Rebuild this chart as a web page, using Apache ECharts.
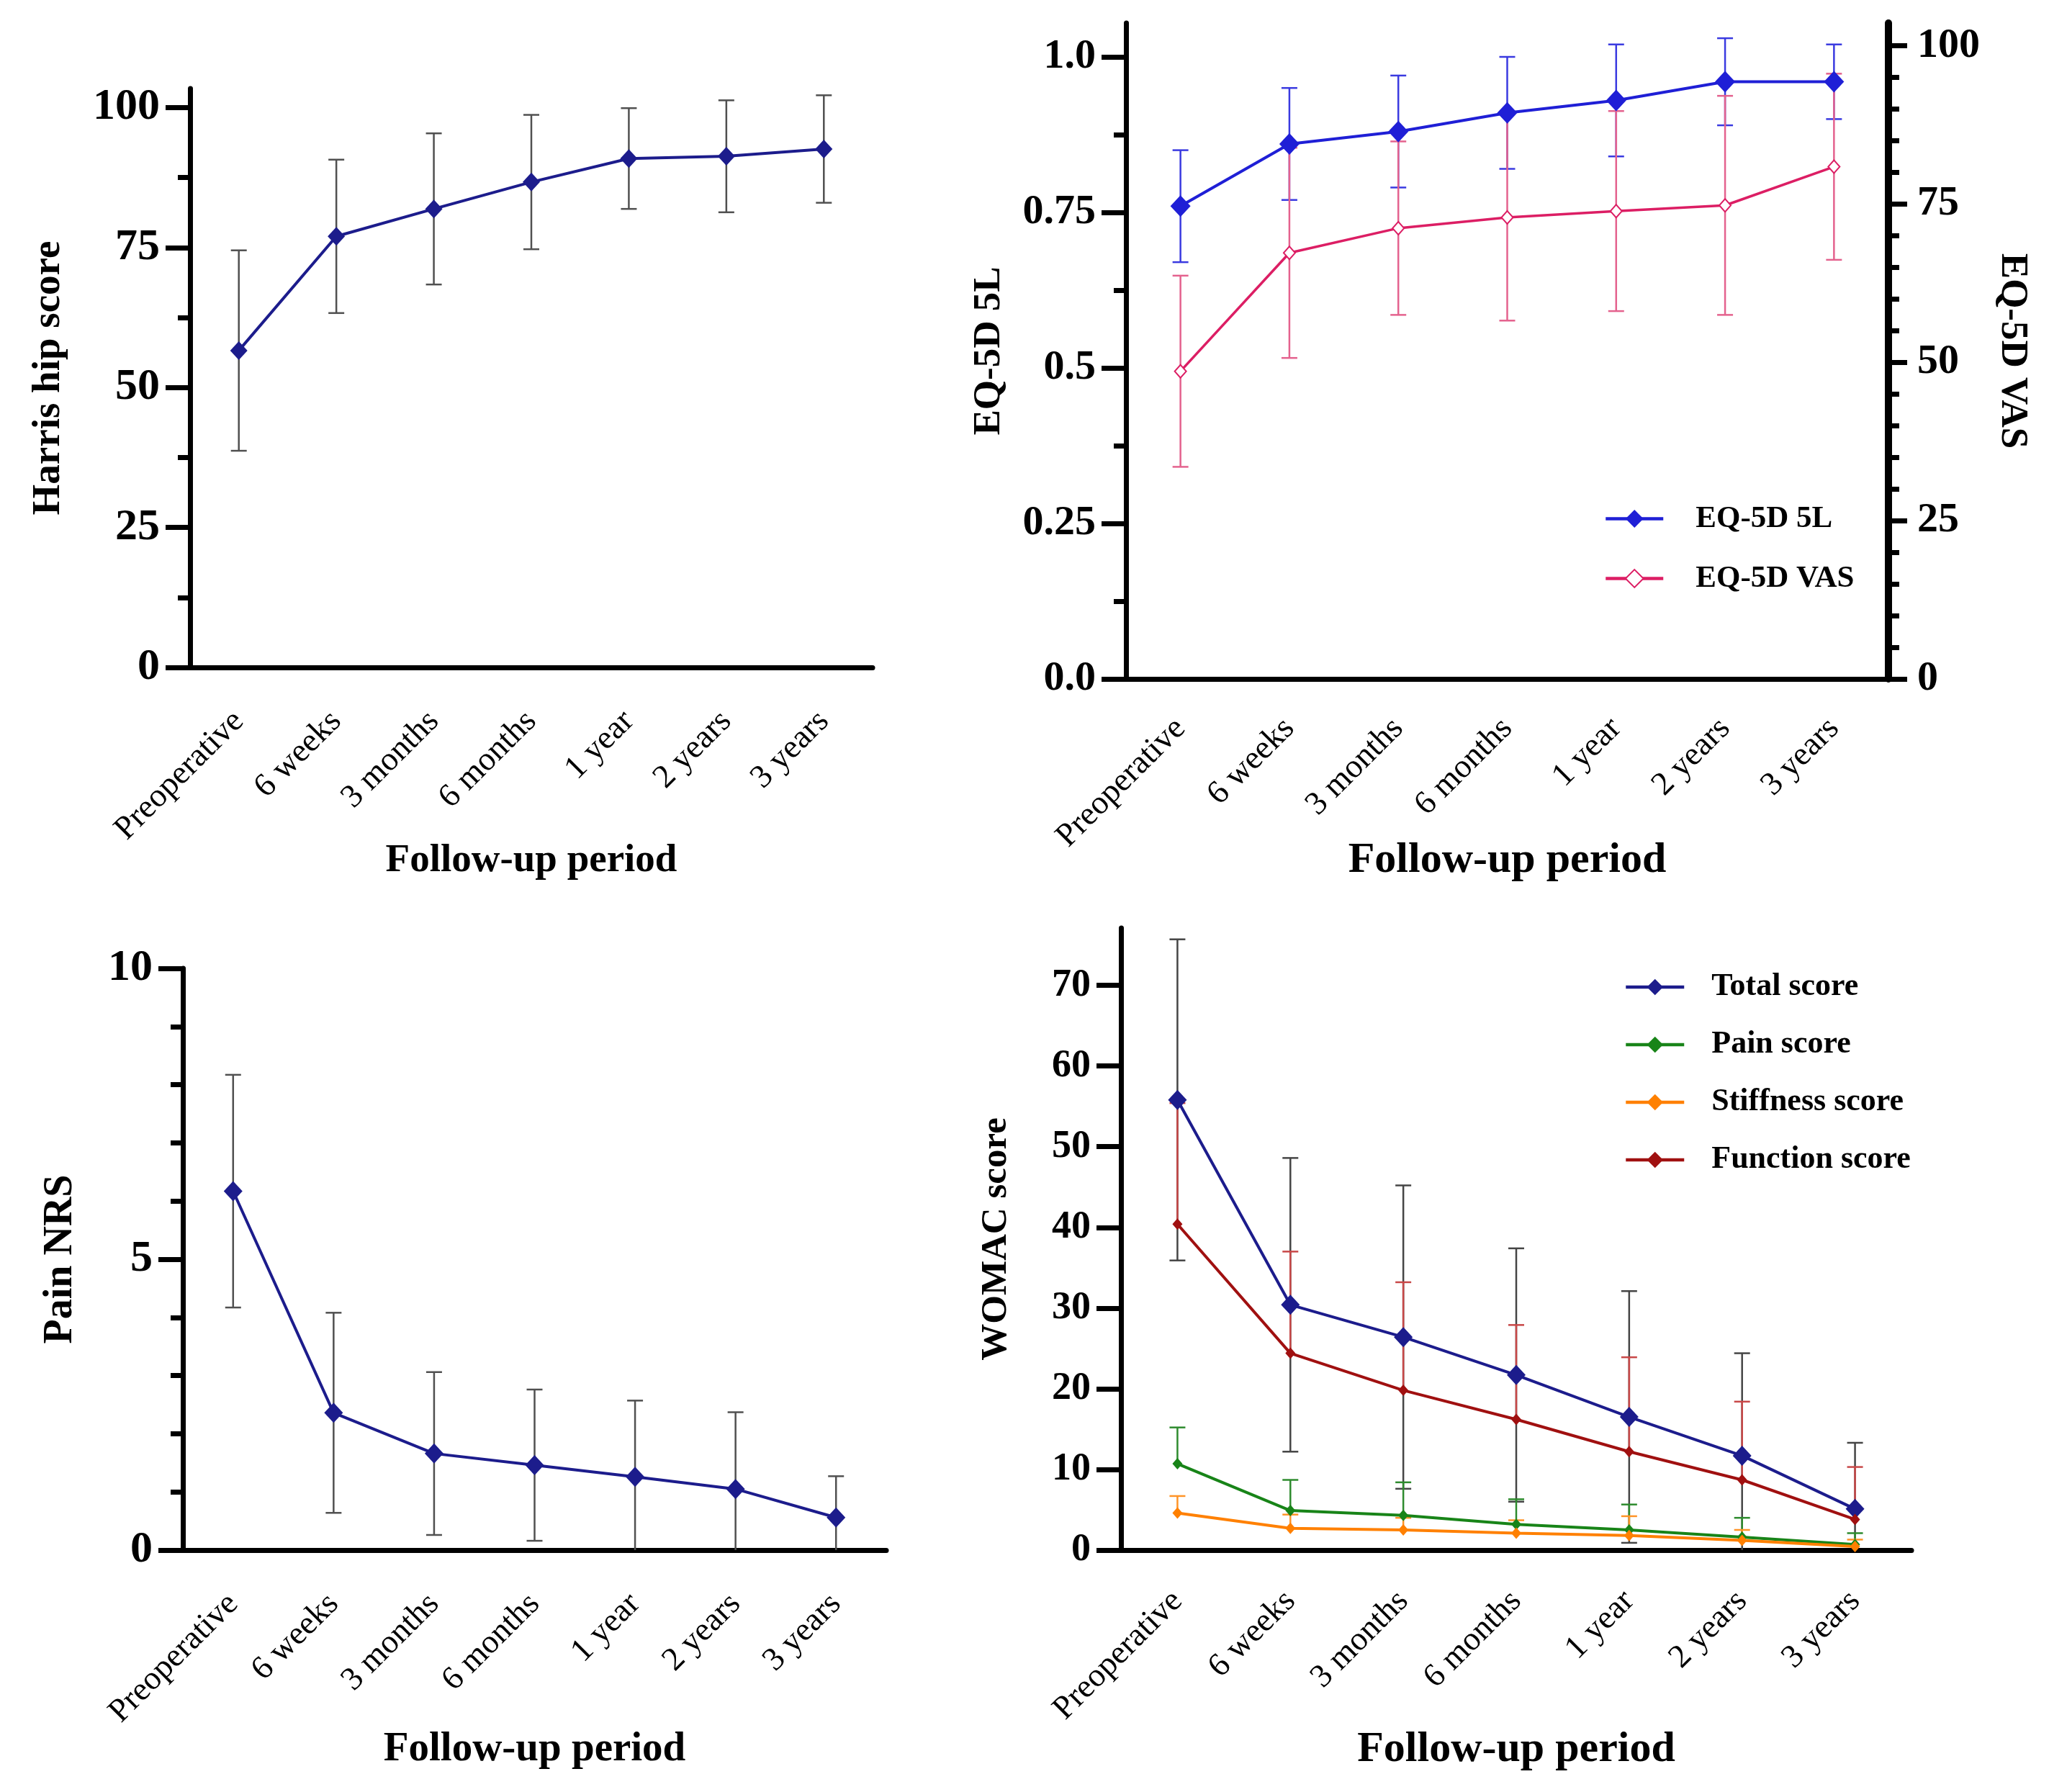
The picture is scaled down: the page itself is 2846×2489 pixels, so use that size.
<!DOCTYPE html>
<html>
<head>
<meta charset="utf-8">
<title>Follow-up outcomes</title>
<script src="https://cdn.jsdelivr.net/npm/echarts@6/dist/echarts.min.js"></script>
<style>
  html, body { margin: 0; padding: 0; background: #fff; }
  #chart { width: 2846px; height: 2489px; }
</style>
</head>
<body>
<div id="chart"></div>
<script>
// follow-up time points (shared by all four panels)
var periods = ['Preoperative', '6 weeks', '3 months', '6 months', '1 year', '2 years', '3 years'];

// Harris hip score, mean and SD
var harrisMean = [56.6, 77.0, 81.9, 86.7, 90.9, 91.3, 92.6];
var harrisSD = [17.9, 13.7, 13.5, 12.0, 9.0, 10.0, 9.6];
var harrisTicks = [0, 25, 50, 75, 100];
var harrisMinor = [12.5, 37.5, 62.5, 87.5];

// EQ-5D 5L index (left axis) and EQ-5D VAS (right axis)
var eq5lMean = [0.76, 0.86, 0.88, 0.91, 0.93, 0.96, 0.96];
var eq5lSD = [0.09, 0.09, 0.09, 0.09, 0.09, 0.07, 0.06];
var vasMean = [48.6, 67.3, 71.2, 72.9, 73.9, 74.8, 80.9];
var vasSD = [15.1, 16.6, 13.7, 16.3, 15.8, 17.3, 14.7];
var eq5lTicks = [0, 0.25, 0.5, 0.75, 1.0];
var eq5lTickLabels = ['0.0', '0.25', '0.5', '0.75', '1.0'];
var eq5lMinor = [0.125, 0.375, 0.625, 0.875];
var vasTicks = [0, 25, 50, 75, 100];
var vasMinor = [5, 10, 15, 20, 30, 35, 40, 45, 55, 60, 65, 70, 80, 85, 90, 95];

// Pain NRS
var nrsMean = [6.17, 2.36, 1.66, 1.46, 1.26, 1.05, 0.56];
var nrsSD = [2.0, 1.72, 1.4, 1.3, 1.31, 1.32, 0.71];
var nrsTicks = [0, 5, 10];
var nrsMinor = [1, 2, 3, 4, 6, 7, 8, 9];

// WOMAC total and subscores
var totalMean = [55.8, 30.4, 26.4, 21.7, 16.5, 11.7, 5.1];
var totalSD = [19.9, 18.2, 18.8, 15.7, 15.6, 12.7, 8.2];
var painMean = [10.7, 4.9, 4.3, 3.2, 2.5, 1.6, 0.7];
var painSD = [4.5, 3.8, 4.1, 3.1, 3.15, 2.4, 1.4];
var stiffMean = [4.6, 2.7, 2.5, 2.1, 1.8, 1.2, 0.45];
var stiffSD = [2.1, 1.7, 1.5, 1.6, 2.4, 1.3, 0.85];
var funcMean = [40.4, 24.4, 19.8, 16.2, 12.2, 8.7, 3.8];
var funcSD = [15.0, 12.6, 13.4, 11.7, 11.7, 9.7, 6.5];
var womacTicks = [0, 10, 20, 30, 40, 50, 60, 70];

var SERIF = '"Liberation Serif", "Times New Roman", serif';
var NAVY = '#1c1c8c';

function bold(size) {
  return { fontFamily: SERIF, fontWeight: 'bold', fontSize: size, color: '#000' };
}

function xAxisFor(grid, nameGap, nameSize, margin) {
  return {
    gridIndex: grid, type: 'category', data: periods, boundaryGap: true,
    axisLine: { lineStyle: { color: '#000', width: 7 } },
    axisTick: { alignWithLabel: true, length: 30, lineStyle: { color: '#000', width: 7 } },
    axisLabel: { interval: 0, rotate: 45, margin: margin || 70, fontFamily: SERIF, fontSize: 46, color: '#000' },
    splitLine: { show: false },
    name: 'Follow-up period', nameLocation: 'middle', nameGap: nameGap, nameMoveOverlap: false,
    nameTextStyle: bold(nameSize)
  };
}

function yMajor(grid, max, ticks, opt) {
  return {
    gridIndex: grid, type: 'value', min: 0, max: max, position: opt.right ? 'right' : 'left',
    axisLine: { show: true, onZero: false, lineStyle: { color: '#000', width: opt.lineWidth || 7 } },
    axisTick: { show: true, customValues: ticks, length: opt.tickLen || 34, lineStyle: { color: '#000', width: 7 } },
    axisLabel: {
      customValues: ticks, margin: opt.margin || 42,
      fontFamily: SERIF, fontWeight: 'bold', fontSize: opt.fontSize, color: '#000',
      formatter: opt.labels ? function (v) { return opt.labels[ticks.indexOf(v)]; } : null
    },
    splitLine: { show: false },
    name: opt.name, nameLocation: 'middle', nameGap: opt.nameGap, nameMoveOverlap: false,
    nameRotate: opt.right ? -90 : 90,
    nameTextStyle: bold(opt.nameSize)
  };
}

function yMinor(grid, max, ticks, len, right) {
  return {
    gridIndex: grid, type: 'value', min: 0, max: max, position: right ? 'right' : 'left',
    axisLine: { show: false, onZero: false },
    axisTick: { show: true, customValues: ticks, length: len, lineStyle: { color: '#000', width: 7 } },
    axisLabel: { show: false },
    splitLine: { show: false }
  };
}

function lineSeries(name, xi, yi, values, color, symbol, size, width) {
  return {
    type: 'line', name: name, xAxisIndex: xi, yAxisIndex: yi, data: values, z: 3,
    symbol: symbol, symbolSize: size, showSymbol: true,
    lineStyle: { color: color, width: width || 4 },
    itemStyle: { color: color, borderColor: color, borderWidth: symbol === 'emptyDiamond' ? 3 : 0 }
  };
}

// mean +/- SD bars; upOnly draws the upper half only, lower ends stop at the axis floor
function errorBars(xi, yi, mean, sd, color, upOnly) {
  var data = mean.map(function (m, i) {
    var lo = upOnly ? m : Math.max(m - sd[i], 0);
    var capLo = (!upOnly && m - sd[i] > 0) ? 1 : 0;
    return [i, lo, m + sd[i], capLo];
  });
  return {
    type: 'custom', xAxisIndex: xi, yAxisIndex: yi, z: 2, silent: true, clip: false,
    data: data, encode: { x: 0, y: [1, 2] },
    renderItem: function (params, api) {
      var x = api.value(0);
      var top = api.coord([x, api.value(2)]);
      var bot = api.coord([x, api.value(1)]);
      var w = 11;
      var st = { stroke: color, lineWidth: 2.5 };
      var kids = [
        { type: 'line', shape: { x1: top[0], y1: top[1], x2: bot[0], y2: bot[1] }, style: st },
        { type: 'line', shape: { x1: top[0] - w, y1: top[1], x2: top[0] + w, y2: top[1] }, style: st }
      ];
      if (api.value(3)) {
        kids.push({ type: 'line', shape: { x1: bot[0] - w, y1: bot[1], x2: bot[0] + w, y2: bot[1] }, style: st });
      }
      return { type: 'group', children: kids };
    }
  };
}

var chart = echarts.init(document.getElementById('chart'), null, { renderer: 'canvas' });

chart.setOption({
  backgroundColor: '#fff',
  animation: false,
  grid: [
    { left: 264, top: 123, width: 948, height: 804 },
    { left: 1564, top: 32, width: 1059, height: 911 },
    { left: 254, top: 1345, width: 977, height: 808 },
    { left: 1557, top: 1289, width: 1098, height: 864 }
  ],
  legend: [
    {
      data: ['EQ-5D 5L', 'EQ-5D VAS'], orient: 'vertical', left: 2223, top: 694,
      itemWidth: 80, itemHeight: 31, itemGap: 40, selectedMode: false,
      lineStyle: { width: 4.5 },
      textStyle: { fontFamily: SERIF, fontWeight: 'bold', fontSize: 43, color: '#000', padding: [0, 0, 0, 40] }
    },
    {
      data: ['Total score', 'Pain score', 'Stiffness score', 'Function score'], orient: 'vertical',
      left: 2251, top: 1344, itemWidth: 81, itemHeight: 28, itemGap: 36, selectedMode: false,
      lineStyle: { width: 4.5 },
      textStyle: { fontFamily: SERIF, fontWeight: 'bold', fontSize: 44, color: '#000', padding: [0, 0, 0, 33] }
    }
  ],
  xAxis: [
    xAxisFor(0, 241, 55, 68),
    xAxisFor(1, 222, 60, 62),
    xAxisFor(2, 249, 57, 68),
    xAxisFor(3, 247, 60, 64)
  ],
  yAxis: [
    yMajor(0, 103.4, harrisTicks, { fontSize: 62, name: 'Harris hip score', nameGap: 169, nameSize: 55 }),
    yMinor(0, 103.4, harrisMinor, 17),
    yMajor(1, 1.0544, eq5lTicks, { fontSize: 58, labels: eq5lTickLabels, name: 'EQ-5D 5L', nameGap: 163, nameSize: 53 }),
    yMinor(1, 1.0544, eq5lMinor, 17),
    yMajor(1, 103.6, vasTicks, { right: true, fontSize: 58, lineWidth: 10, tickLen: 26, margin: 40, name: 'EQ-5D VAS', nameGap: 145, nameSize: 53 }),
    yMinor(1, 103.6, vasMinor, 15, true),
    yMajor(2, 10, nrsTicks, { fontSize: 62, name: 'Pain NRS', nameGap: 141, nameSize: 56 }),
    yMinor(2, 10, nrsMinor, 17),
    yMajor(3, 77.1, womacTicks, { fontSize: 54, name: 'WOMAC score', nameGap: 148, nameSize: 51 })
  ],
  series: [
    errorBars(0, 0, harrisMean, harrisSD, '#505050', false),
    lineSeries('Harris hip score', 0, 0, harrisMean, NAVY, 'diamond', [24, 26]),

    errorBars(1, 2, eq5lMean, eq5lSD, '#3a3ae0', false),
    errorBars(1, 4, vasMean, vasSD, '#e4628e', false),
    lineSeries('EQ-5D 5L', 1, 2, eq5lMean, '#1f1fd6', 'diamond', [28, 30]),
    lineSeries('EQ-5D VAS', 1, 4, vasMean, '#dc1e64', 'emptyDiamond', [16, 18], 3.5),

    errorBars(2, 6, nrsMean, nrsSD, '#505050', false),
    lineSeries('Pain NRS', 2, 6, nrsMean, NAVY, 'diamond', [26, 28]),

    errorBars(3, 8, totalMean, totalSD, '#454545', false),
    errorBars(3, 8, funcMean, funcSD, '#c84848', true),
    errorBars(3, 8, painMean, painSD, '#2e8b2e', true),
    errorBars(3, 8, stiffMean, stiffSD, '#ff9428', true),
    lineSeries('Total score', 3, 8, totalMean, NAVY, 'diamond', [26, 28]),
    lineSeries('Pain score', 3, 8, painMean, '#188418', 'diamond', [14, 16]),
    lineSeries('Stiffness score', 3, 8, stiffMean, '#ff8000', 'diamond', [14, 16]),
    lineSeries('Function score', 3, 8, funcMean, '#a01010', 'diamond', [14, 16])
  ]
});
</script>
</body>
</html>
